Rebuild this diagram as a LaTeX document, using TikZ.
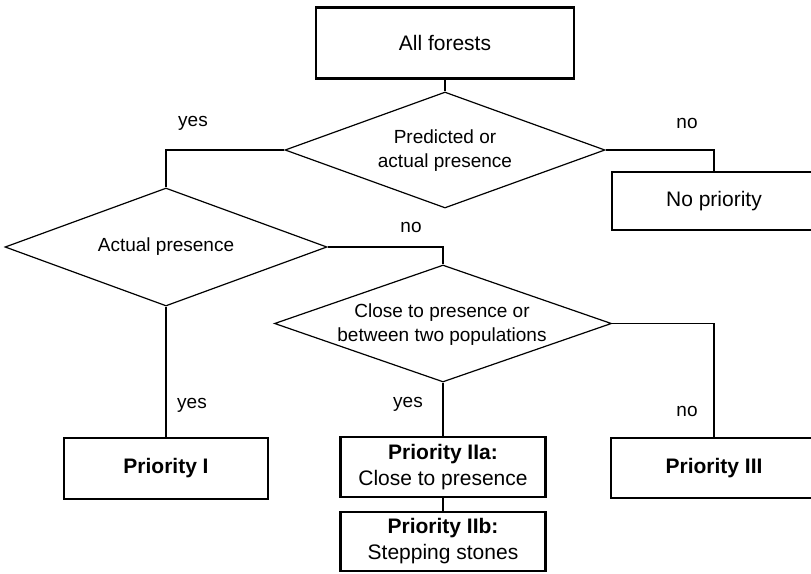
\documentclass[tikz,border=0pt]{standalone}
\usepackage{fontspec}
\setmainfont{Liberation Sans}
\usetikzlibrary{shapes.geometric}
\begin{document}
\begin{tikzpicture}[x=1pt,y=-1pt,
  conn/.style={line width=1.2pt},
  thickbox/.style={draw, line width=2.4pt, rectangle, inner sep=0pt, align=center,
    font=\fontsize{21}{26}\selectfont},
  thinbox/.style={draw, line width=1.3pt, rectangle, inner sep=0pt, align=center,
    font=\fontsize{21}{26}\selectfont},
  dia/.style={draw, diamond, line width=1.2pt, inner sep=0pt},
  dtext/.style={align=center, inner sep=0pt, font=\fontsize{19}{24}\selectfont},
  lbl/.style={inner sep=0pt, font=\fontsize{19}{23}\selectfont}]
\useasboundingbox (0,0) rectangle (811,573);
% boxes
\node[thickbox, minimum width=258, minimum height=71] (af) at (445,43) {All forests};
\node[thinbox, minimum width=204, minimum height=58] (np) at (714,201) {No priority};
\node[thickbox, minimum width=204, minimum height=61] (p1) at (166,468.5) {\bfseries Priority I};
\node[thickbox, minimum width=205, minimum height=60] (p2a) at (443,467) {\bfseries Priority IIa:\\Close to presence};
\node[thickbox, minimum width=205, minimum height=59] (p2b) at (443,541.5) {\bfseries Priority IIb:\\Stepping stones};
\node[thickbox, minimum width=206, minimum height=60] (p3) at (714,468) {\bfseries Priority III};
% diamonds
\node[dia, minimum width=320, minimum height=116] (d1) at (445,150) {};
\node[dtext] (t1) at (445,151) {Predicted or\\actual presence};
\node[dia, minimum width=322, minimum height=118] (d2) at (166,247) {};
\node[dtext] (t2) at (166,247) {Actual presence};
\node[dia, minimum width=337, minimum height=117] (d3) at (443,323.5) {};
\node[dtext] (t3) at (442,325) {Close to presence or\\between two populations};
% labels
\node[lbl] (l1) at (193,123) {yes};
\node[lbl] (l2) at (687,123) {no};
\node[lbl] (l3) at (411,227) {no};
\node[lbl] (l4) at (192,405) {yes};
\node[lbl] (l5) at (408,404) {yes};
\node[lbl] (l6) at (687,411) {no};
% connectors
\draw[conn] (af.south) -- (d1.north);
\draw[conn] (d1.west) -| (d2.north);
\draw[conn] (d1.east) -| (np.north);
\draw[conn] (d2.east) -| (d3.north);
\draw[conn] (d2.south) -- (p1.north);
\draw[conn] (d3.south) -- (p2a.north);
\draw[conn] (d3.east) -| (p3.north);
\draw[conn] (p2a.south) -- (p2b.north);
\end{tikzpicture}
\end{document}
